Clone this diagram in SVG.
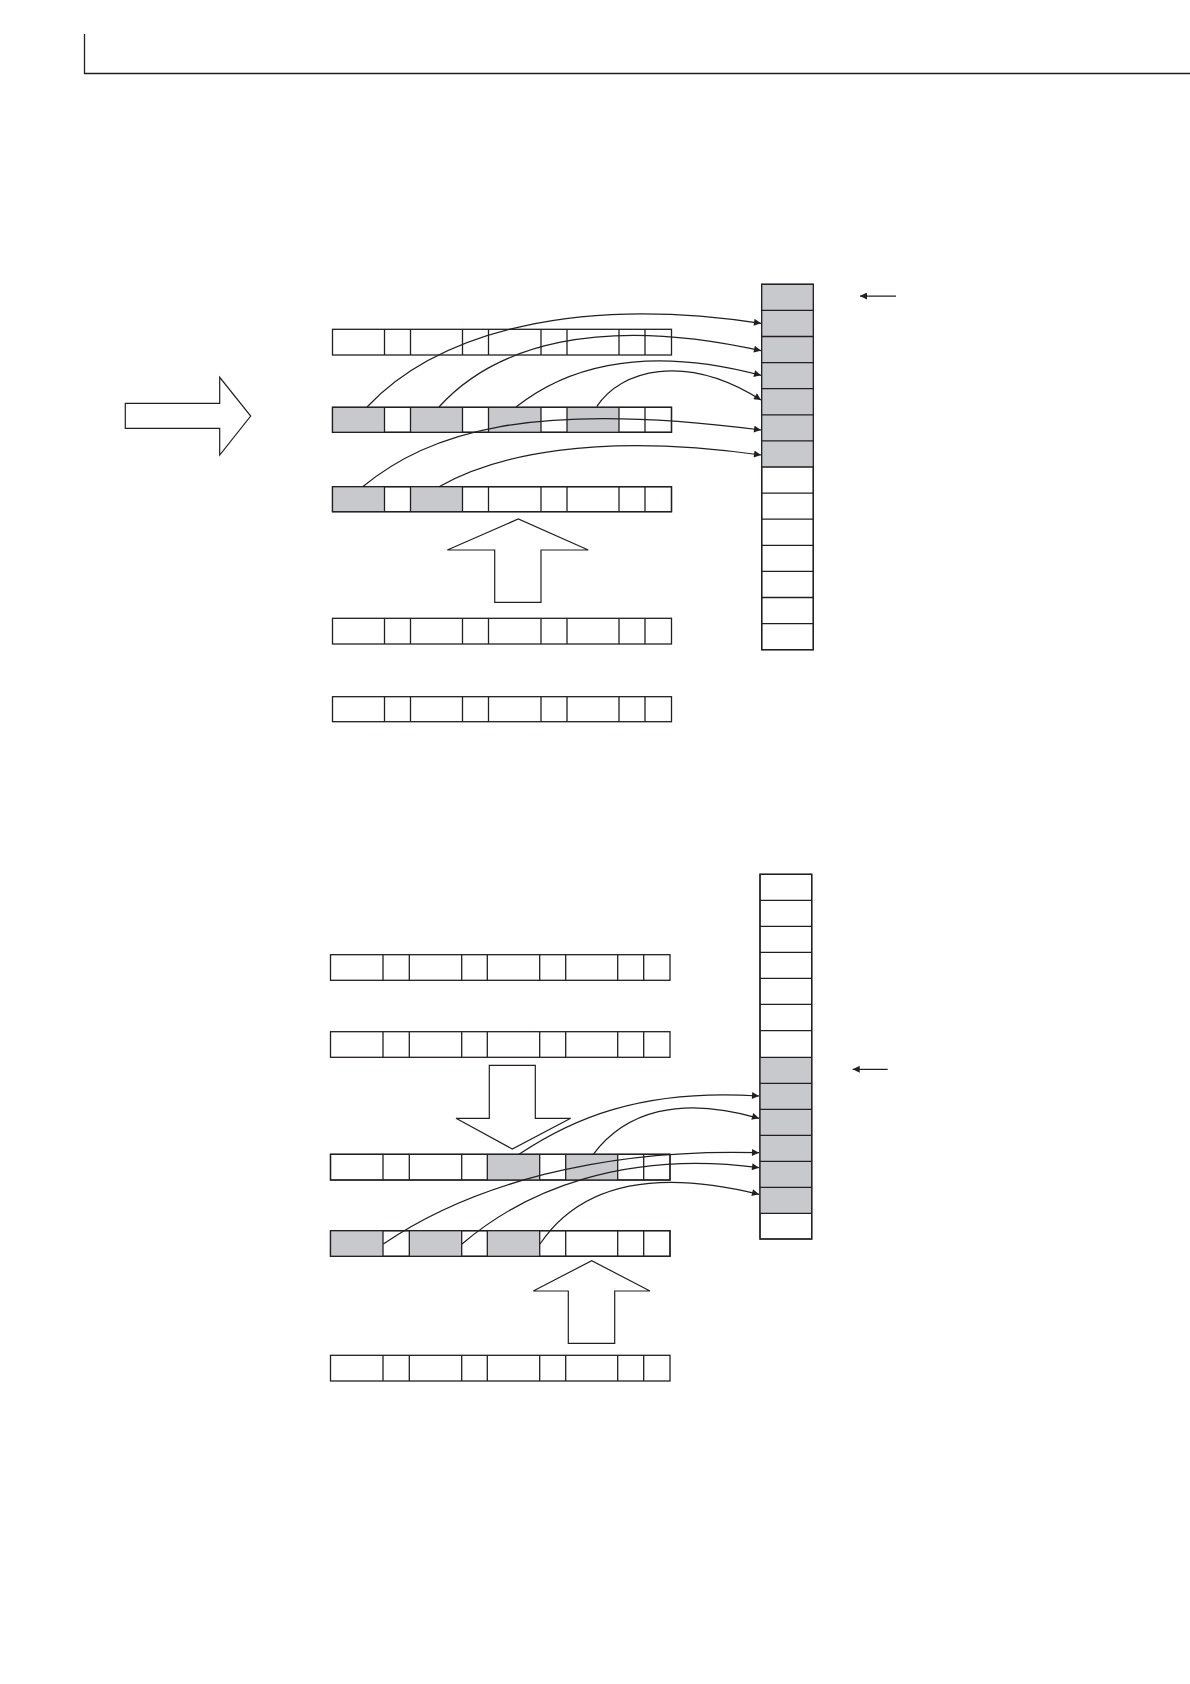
<svg xmlns="http://www.w3.org/2000/svg" width="1190" height="1684" viewBox="0 0 1190 1684">
<defs>
<style>
.ln{stroke:#231f20;stroke-width:1.3;fill:none}
.box{stroke:#231f20;stroke-width:1.3;fill:#ffffff}
.g{fill:#c7c9cc;stroke:none}
.big{stroke:#231f20;stroke-width:1.2;fill:#ffffff;stroke-linejoin:miter}
.cv{stroke:#231f20;stroke-width:1.25;fill:none;marker-end:url(#ah)}
</style>
<marker id="ah" viewBox="0 0 10 10" refX="10" refY="5" markerWidth="8" markerHeight="7" markerUnits="userSpaceOnUse" orient="auto">
<path d="M0,0 L10,5 L0,10 Z" fill="#231f20"/>
</marker>
</defs>
<rect width="1190" height="1684" fill="#ffffff"/>

<g id="header">
<line class="ln" x1="84.5" y1="34" x2="84.5" y2="74"/>
<line class="ln" x1="84" y1="73.5" x2="1190" y2="73.5"/>
</g>

<!-- top section rows -->
<g id="rowT1">
<rect class="box" x="332.5" y="329.3" width="339" height="25.7"/>
<path class="ln" d="M384.5,329.3V355M410.5,329.3V355M462.5,329.3V355M488.5,329.3V355M541,329.3V355M567,329.3V355M619,329.3V355M645,329.3V355"/>
</g>
<g id="rowT2">
<rect class="box" x="332.5" y="407.3" width="339" height="25"/>
<rect class="g" x="332.5" y="407.3" width="52" height="25"/>
<rect class="g" x="410.5" y="407.3" width="52" height="25"/>
<rect class="g" x="488.5" y="407.3" width="52.5" height="25"/>
<rect class="g" x="567" y="407.3" width="52" height="25"/>
<rect class="ln" x="332.5" y="407.3" width="339" height="25"/>
<path class="ln" d="M384.5,407.3V432.3M410.5,407.3V432.3M462.5,407.3V432.3M488.5,407.3V432.3M541,407.3V432.3M567,407.3V432.3M619,407.3V432.3M645,407.3V432.3"/>
</g>
<g id="rowT3">
<rect class="box" x="332.5" y="486.7" width="339" height="25"/>
<rect class="g" x="332.5" y="486.7" width="52" height="25"/>
<rect class="g" x="410.5" y="486.7" width="52" height="25"/>
<rect class="ln" x="332.5" y="486.7" width="339" height="25"/>
<path class="ln" d="M384.5,486.7V511.7M410.5,486.7V511.7M462.5,486.7V511.7M488.5,486.7V511.7M541,486.7V511.7M567,486.7V511.7M619,486.7V511.7M645,486.7V511.7"/>
</g>
<g id="rowT4">
<rect class="box" x="332.5" y="618.3" width="339" height="25.7"/>
<path class="ln" d="M384.5,618.3V644M410.5,618.3V644M462.5,618.3V644M488.5,618.3V644M541,618.3V644M567,618.3V644M619,618.3V644M645,618.3V644"/>
</g>
<g id="rowT5">
<rect class="box" x="332.5" y="696.7" width="339" height="25"/>
<path class="ln" d="M384.5,696.7V721.7M410.5,696.7V721.7M462.5,696.7V721.7M488.5,696.7V721.7M541,696.7V721.7M567,696.7V721.7M619,696.7V721.7M645,696.7V721.7"/>
</g>

<g id="colTop">
<rect class="box" x="761.7" y="284.3" width="51.6" height="365.4"/>
<rect class="g" x="761.7" y="284.3" width="51.6" height="183"/>
<rect class="ln" x="761.7" y="284.3" width="51.6" height="365.4"/>
<path class="ln" d="M761.7,310.4H813.3M761.7,336.5H813.3M761.7,362.6H813.3M761.7,388.7H813.3M761.7,414.8H813.3M761.7,440.9H813.3M761.7,467H813.3M761.7,493.1H813.3M761.7,519.2H813.3M761.7,545.3H813.3M761.7,571.4H813.3M761.7,597.5H813.3M761.7,623.6H813.3"/>
</g>

<g id="arrowLeft">
<polygon class="big" points="125.3,403.3 219.7,403.3 219.7,377.3 250.7,416 219.7,455 219.7,428.3 125.3,428.3"/>
</g>
<g id="arrowUpTop">
<polygon class="big" points="494.7,602.3 494.7,550 447.3,550 518.3,519 588.3,550 541,550 541,602.3"/>
</g>

<!-- bottom section rows -->
<g id="rowB1">
<rect class="box" x="330.5" y="954.7" width="339.5" height="25.6"/>
<path class="ln" d="M383,954.7V980.3M409.3,954.7V980.3M461.7,954.7V980.3M487.3,954.7V980.3M539.7,954.7V980.3M565.7,954.7V980.3M617.7,954.7V980.3M643.7,954.7V980.3"/>
</g>
<g id="rowB2">
<rect class="box" x="330.5" y="1031.7" width="339.5" height="25.6"/>
<path class="ln" d="M383,1031.7V1057.3M409.3,1031.7V1057.3M461.7,1031.7V1057.3M487.3,1031.7V1057.3M539.7,1031.7V1057.3M565.7,1031.7V1057.3M617.7,1031.7V1057.3M643.7,1031.7V1057.3"/>
</g>
<g id="rowB3">
<rect class="box" x="330.5" y="1154.3" width="339.5" height="25.7"/>
<rect class="g" x="487.3" y="1154.3" width="52.4" height="25.7"/>
<rect class="g" x="565.7" y="1154.3" width="52" height="25.7"/>
<rect class="ln" x="330.5" y="1154.3" width="339.5" height="25.7"/>
<path class="ln" d="M383,1154.3V1180M409.3,1154.3V1180M461.7,1154.3V1180M487.3,1154.3V1180M539.7,1154.3V1180M565.7,1154.3V1180M617.7,1154.3V1180M643.7,1154.3V1180"/>
</g>
<g id="rowB4">
<rect class="box" x="330.5" y="1230.7" width="339.5" height="25.6"/>
<rect class="g" x="330.5" y="1230.7" width="52.5" height="25.6"/>
<rect class="g" x="409.3" y="1230.7" width="52.4" height="25.6"/>
<rect class="g" x="487.3" y="1230.7" width="52.4" height="25.6"/>
<rect class="ln" x="330.5" y="1230.7" width="339.5" height="25.6"/>
<path class="ln" d="M383,1230.7V1256.3M409.3,1230.7V1256.3M461.7,1230.7V1256.3M487.3,1230.7V1256.3M539.7,1230.7V1256.3M565.7,1230.7V1256.3M617.7,1230.7V1256.3M643.7,1230.7V1256.3"/>
</g>
<g id="rowB5">
<rect class="box" x="330.5" y="1355.3" width="339.5" height="25.7"/>
<path class="ln" d="M383,1355.3V1381M409.3,1355.3V1381M461.7,1355.3V1381M487.3,1355.3V1381M539.7,1355.3V1381M565.7,1355.3V1381M617.7,1355.3V1381M643.7,1355.3V1381"/>
</g>

<g id="colBottom">
<rect class="box" x="760" y="874.3" width="51.7" height="364.7"/>
<rect class="g" x="760" y="1057.3" width="51.7" height="156"/>
<rect class="ln" x="760" y="874.3" width="51.7" height="364.7"/>
<path class="ln" d="M760,900.3H811.7M760,926.3H811.7M760,952.3H811.7M760,978.3H811.7M760,1004.3H811.7M760,1030.7H811.7M760,1057.3H811.7M760,1083.3H811.7M760,1109.3H811.7M760,1135.3H811.7M760,1161.3H811.7M760,1187.3H811.7M760,1213.3H811.7"/>
</g>

<g id="arrowDown">
<polygon class="big" points="489.3,1065.3 535.3,1065.3 535.3,1118.3 570.7,1118.3 512.3,1149 456,1118.3 489.3,1118.3"/>
</g>
<g id="arrowUpBottom">
<polygon class="big" points="568.3,1343.3 568.3,1291 533.3,1291 591.7,1260.7 650,1291 614.7,1291 614.7,1343.3"/>
</g>

<g id="connectors">
<line class="cv" x1="896" y1="296" x2="860" y2="296"/>
<path class="cv" d="M367,407 C440,330 580,296 761,323.3"/>
<path class="cv" d="M439,407 C495,345 600,315 761,350.7"/>
<path class="cv" d="M516,407 C560,372 635,342 761,375.3"/>
<path class="cv" d="M596.7,406.7 C620,370 685,352 761,400"/>
<path class="cv" d="M362.7,486.7 C430,432 530,400 761,430"/>
<path class="cv" d="M439,486.7 C495,455 595,432 761,455"/>

<line class="cv" x1="887.7" y1="1069.3" x2="852.7" y2="1069.3"/>
<path class="cv" d="M519,1154.3 C570,1120 640,1088 759,1096"/>
<path class="cv" d="M593.3,1154.3 C625,1112 680,1095 759,1118.3"/>
<path class="cv" d="M383.3,1244 C470,1185 600,1148 759,1152.7"/>
<path class="cv" d="M462,1244 C525,1190 625,1150 759,1167.7"/>
<path class="cv" d="M540,1244 C575,1192 640,1165 759,1194.3"/>
</g>
</svg>
